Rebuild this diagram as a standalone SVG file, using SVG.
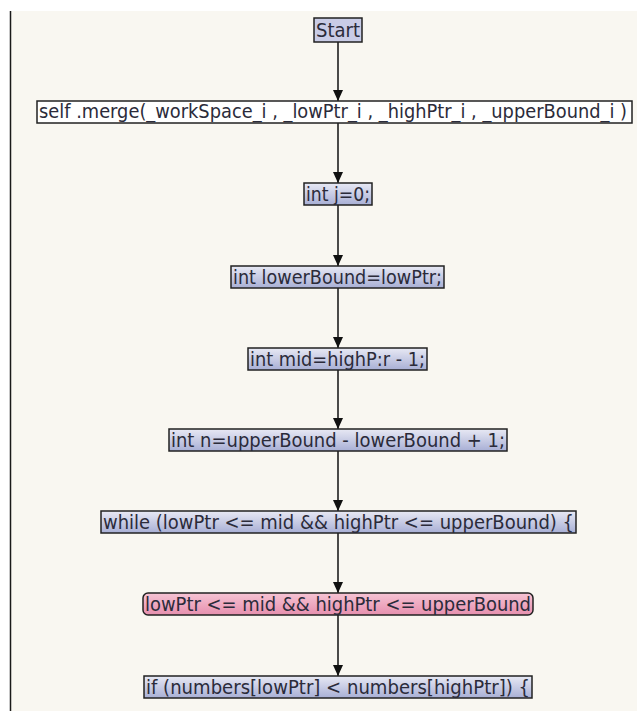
<svg xmlns="http://www.w3.org/2000/svg" width="637" height="711" viewBox="0 0 637 711">
  <defs>
    <linearGradient id="stmtFill" x1="0" y1="0" x2="0" y2="1">
      <stop offset="0" stop-color="#e8e9f4"/>
      <stop offset="1" stop-color="#a8afd5"/>
    </linearGradient>
    <linearGradient id="condFill" x1="0" y1="0" x2="0" y2="1">
      <stop offset="0" stop-color="#f6c4d4"/>
      <stop offset="1" stop-color="#e68fae"/>
    </linearGradient>
    <marker id="arrow" markerUnits="userSpaceOnUse" markerWidth="11" markerHeight="11" refX="11" refY="5" orient="auto">
      <path d="M0,0 L11,5 L0,10 z" fill="#111"/>
    </marker>
  </defs>
  <style>
    .box { stroke: #222; stroke-width: 1.5; }
    .stmt { fill: url(#stmtFill); }
    .cond { fill: url(#condFill); }
    .plain { fill: #ffffff; }
    .start { fill: #c9cce6; }
    .lbl { font-family: "DejaVu Sans", "Liberation Sans", sans-serif; font-size: 19px; fill: #2b2b3a; }
    .edge { stroke: #111; stroke-width: 1.5; fill: none; marker-end: url(#arrow); }
  </style>

  <!-- canvas -->
  <rect x="0" y="0" width="637" height="711" fill="#ffffff"/>
  <rect x="10" y="11" width="627" height="700" fill="#f9f7f1"/>
  <line x1="10.5" y1="11" x2="10.5" y2="711" stroke="#1a1a1a" stroke-width="1.5"/>

  <!-- connectors -->
  <g id="edges">
    <line class="edge" x1="338" y1="42" x2="338" y2="101"/>
    <line class="edge" x1="338" y1="123" x2="338" y2="183"/>
    <line class="edge" x1="338" y1="205" x2="338" y2="266"/>
    <line class="edge" x1="338" y1="288" x2="338" y2="348"/>
    <line class="edge" x1="338" y1="370" x2="338" y2="429"/>
    <line class="edge" x1="338" y1="451" x2="338" y2="511"/>
    <line class="edge" x1="338" y1="533" x2="338" y2="593"/>
    <line class="edge" x1="338" y1="615" x2="338" y2="676"/>
  </g>

  <!-- nodes -->
  <g id="n-start">
    <rect class="box start" x="314" y="18" width="48" height="24"/>
    <text class="lbl" x="316" y="37" textLength="44" lengthAdjust="spacingAndGlyphs">Start</text>
  </g>
  <g id="n-merge">
    <rect class="box plain" x="37" y="101" width="595" height="22"/>
    <text class="lbl" x="39" y="117.5" font-size="17.5" textLength="588" lengthAdjust="spacingAndGlyphs">self .merge(_workSpace_i , _lowPtr_i , _highPtr_i , _upperBound_i )</text>
  </g>
  <g id="n-j">
    <rect class="box stmt" x="304" y="183" width="68" height="22"/>
    <text class="lbl" x="306" y="200.5" textLength="64" lengthAdjust="spacingAndGlyphs">int j=0;</text>
  </g>
  <g id="n-lowerbound">
    <rect class="box stmt" x="231" y="266" width="213" height="22"/>
    <text class="lbl" x="233" y="283.5" textLength="209" lengthAdjust="spacingAndGlyphs">int lowerBound=lowPtr;</text>
  </g>
  <g id="n-mid">
    <rect class="box stmt" x="248" y="348" width="179" height="22"/>
    <text class="lbl" x="250" y="365.5" textLength="175" lengthAdjust="spacingAndGlyphs">int mid=highP:r - 1;</text>
  </g>
  <g id="n-n">
    <rect class="box stmt" x="169" y="429" width="338" height="22"/>
    <text class="lbl" x="171" y="446.5" textLength="334" lengthAdjust="spacingAndGlyphs">int n=upperBound - lowerBound + 1;</text>
  </g>
  <g id="n-while">
    <rect class="box stmt" x="101" y="511" width="475" height="22"/>
    <text class="lbl" x="103" y="528.5" textLength="471" lengthAdjust="spacingAndGlyphs">while (lowPtr &lt;= mid &amp;&amp; highPtr &lt;= upperBound) {</text>
  </g>
  <g id="n-cond">
    <rect class="box cond" x="143" y="593" width="390" height="22" rx="5" ry="5"/>
    <text class="lbl" x="145" y="610.5" textLength="386" lengthAdjust="spacingAndGlyphs">lowPtr &lt;= mid &amp;&amp; highPtr &lt;= upperBound</text>
  </g>
  <g id="n-if">
    <rect class="box stmt" x="144" y="676" width="388" height="22"/>
    <text class="lbl" x="146" y="693.5" textLength="384" lengthAdjust="spacingAndGlyphs">if (numbers[lowPtr] &lt; numbers[highPtr]) {</text>
  </g>
</svg>
